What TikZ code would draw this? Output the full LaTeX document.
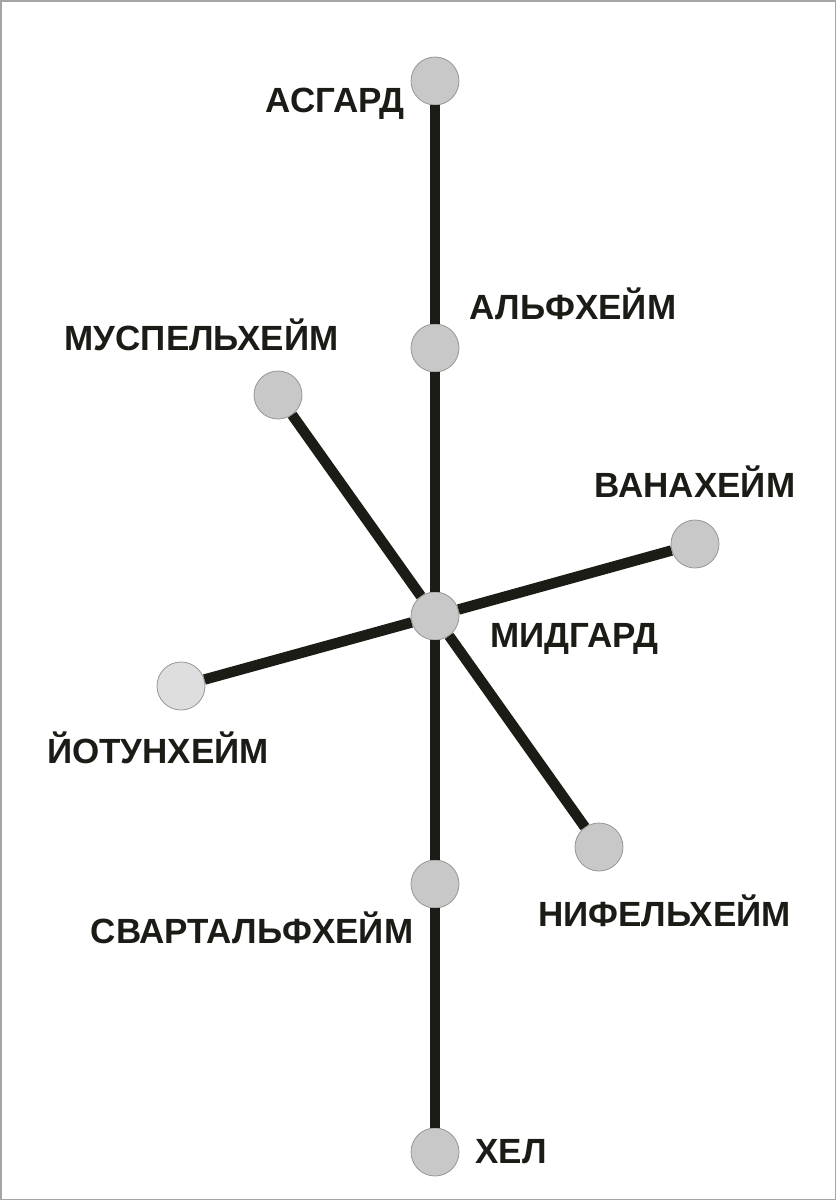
\documentclass[tikz,border=0pt]{standalone}
\usepackage{fontspec}
\setmainfont{Liberation Sans}
\definecolor{roadblack}{RGB}{28,28,22}
\definecolor{worldgray}{RGB}{200,200,200}
\definecolor{palegray}{RGB}{222,222,222}
\definecolor{rimgray}{RGB}{150,150,150}
\definecolor{framegray}{RGB}{165,165,165}
\begin{document}
\begin{tikzpicture}[x=1pt,y=-1pt,
    world/.style={circle,draw=rimgray,line width=0.8pt,fill=worldgray,minimum size=48pt,inner sep=0pt},
    road/.style={line width=10.5pt,draw=roadblack},
    realm/.style={anchor=base,inner sep=0pt,text=roadblack,font=\bfseries\fontsize{35}{42}\selectfont}]

    \draw [framegray,line width=1.5pt] (0.75,0.75) rectangle (835.25,1199.25);

    \node [world] (asgard)       at (435,81)   {};
    \node [world] (alfheim)      at (435,348)  {};
    \node [world] (muspelheim)   at (278,395)  {};
    \node [world] (vanaheim)     at (695,544)  {};
    \node [world] (midgard)      at (435,616)  {};
    \node [world,fill=palegray] (jotunheim) at (181,686) {};
    \node [world] (nifelheim)    at (599,847)  {};
    \node [world] (svartalfheim) at (435,884)  {};
    \node [world] (hel)          at (435,1152) {};

    \draw [road] (asgard) -- (alfheim) -- (midgard) -- (svartalfheim) -- (hel);
    \draw [road] (muspelheim) -- (midgard) -- (nifelheim);
    \draw [road] (jotunheim) -- (midgard) -- (vanaheim);

    \node [realm] (asgardname)       at (335,112)   {АСГАРД};
    \node [realm] (alfheimname)      at (573,319)   {АЛЬФХЕЙМ};
    \node [realm] (muspelheimname)   at (201.5,350) {МУСПЕЛЬХЕЙМ};
    \node [realm] (vanaheimname)     at (695,497)   {ВАНАХЕЙМ};
    \node [realm] (midgardname)      at (574.5,647) {МИДГАРД};
    \node [realm] (jotunheimname)    at (158,763)   {ЙОТУНХЕЙМ};
    \node [realm] (svartalfheimname) at (252,943)   {СВАРТАЛЬФХЕЙМ};
    \node [realm] (nifelheimname)    at (664.5,926) {НИФЕЛЬХЕЙМ};
    \node [realm] (helname)          at (511,1163)  {ХЕЛ};

\end{tikzpicture}
\end{document}
